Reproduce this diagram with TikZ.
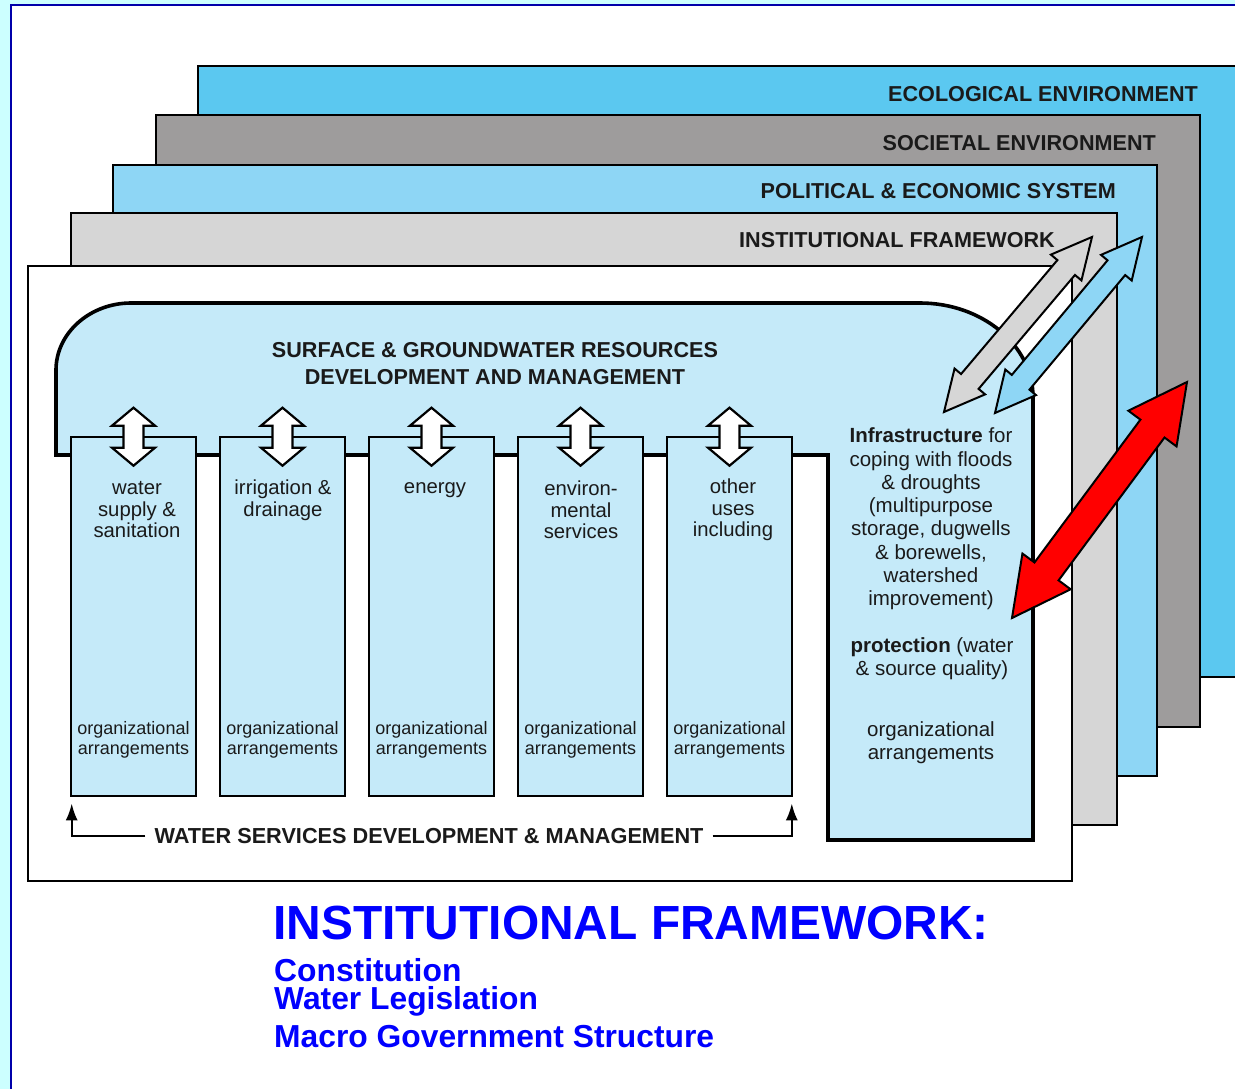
\documentclass[tikz,border=0pt]{standalone}
\usepackage{fontspec}
\setmainfont{Liberation Sans}
\usetikzlibrary{calc,arrows.meta}
\definecolor{eco}{HTML}{5BC8F0}
\definecolor{soc}{HTML}{9E9C9C}
\definecolor{pol}{HTML}{8ED6F5}
\definecolor{inst}{HTML}{D6D6D6}
\definecolor{pale}{HTML}{C5EAF9}
\definecolor{framebg}{HTML}{CCFFFF}
\definecolor{frameblue}{HTML}{0000AA}
\definecolor{titleblue}{HTML}{0000FF}
\definecolor{txt}{HTML}{1A1A1A}
% fat double arrow: #1 tip A, #2 tip B, #3 head length, #4 head half width, #5 shaft half width, #6 style
\newcommand\fatdarrow[6]{%
  \draw[#6] (#1) -- ($(#1)!#3!(#2)!#4!90:(#2)$) -- ($(#1)!#3!(#2)!#5!90:(#2)$)
    -- ($(#2)!#3!(#1)!#5!-90:(#1)$) -- ($(#2)!#3!(#1)!#4!-90:(#1)$) -- (#2)
    -- ($(#2)!#3!(#1)!#4!90:(#1)$) -- ($(#2)!#3!(#1)!#5!90:(#1)$)
    -- ($(#1)!#3!(#2)!#5!-90:(#2)$) -- ($(#1)!#3!(#2)!#4!-90:(#2)$) -- cycle;}
\begin{document}
\begin{tikzpicture}[x=1pt,y=-1pt,
  layer/.style={draw=black, line width=2.8pt},
  colbox/.style={draw=black, line width=2.6pt, fill=pale, minimum width=125pt, minimum height=359pt, inner sep=0pt},
  hdr/.style={font=\fontsize{21.6}{24}\selectfont\bfseries, text=txt, inner sep=0pt, anchor=base east},
  coltxt/.style={font=\fontsize{20.3}{21.5}\selectfont, text=txt, align=center, inner sep=0pt},
  orgtxt/.style={font=\fontsize{18}{20}\selectfont, text=txt, align=center, inner sep=0pt},
  boxtxt/.style={font=\fontsize{20.5}{23.3}\selectfont, text=txt, align=center, inner sep=0pt},
  wharrow/.style={draw=black, fill=white, line width=2.2pt, line join=miter},
  gyarrow/.style={draw=black, fill=inst, line width=2pt, line join=miter},
  blarrow/.style={draw=black, fill=pol, line width=2pt, line join=miter},
  rdarrow/.style={draw=black, fill=red, line width=2pt, line join=miter},
  conn/.style={draw=black, line width=2.4pt, -{Latex[length=17pt,width=12pt]}},
  bigtitle/.style={text=titleblue, font=\fontsize{47.9}{50}\selectfont\bfseries, anchor=base west, inner sep=0pt},
  subtitle/.style={text=titleblue, font=\fontsize{31.8}{34}\selectfont\bfseries, anchor=base west, inner sep=0pt, text height=23.5pt, text depth=2pt}]
\clip (0,0) rectangle (1235,1089);
% frame
\fill[framebg] (0,0) rectangle (1235,1089);
\draw[frameblue, line width=2.5pt, fill=white] (11,5) rectangle (1300,1150);
% stacked layers
\draw[layer, fill=eco] (198,66) rectangle (1300,677);
\draw[layer, fill=soc] (156,115) rectangle (1200,727);
\draw[layer, fill=pol] (113,165) rectangle (1157,776);
\draw[layer, fill=inst] (71,213) rectangle (1117,825);
\draw[layer, fill=white] (28,266) rectangle (1072,881);
% layer headers
\node[hdr] (heco) at (1198,101.5) {ECOLOGICAL ENVIRONMENT};
\node[hdr] (hsoc) at (1156,150.5) {SOCIETAL ENVIRONMENT};
\node[hdr] (hpol) at (1116,198.5) {POLITICAL \& ECONOMIC SYSTEM};
\node[hdr] (hins) at (1055,247.5) {INSTITUTIONAL FRAMEWORK};
% resources shape
\draw[draw=black, line width=3.6pt, fill=pale, line join=miter]
  (56,455) -- (56,370) .. controls (56,333) and (90,303) .. (131,303)
  -- (920,303) .. controls (982,303) and (1033,345) .. (1033,397)
  -- (1033,840) -- (828,840) -- (828,455) -- cycle;
\node[font=\fontsize{21.6}{27}\selectfont\bfseries, text=txt, align=center, inner sep=0pt] (hres) at (495,364) {SURFACE \& GROUNDWATER RESOURCES\\DEVELOPMENT AND MANAGEMENT};
% columns
\node[colbox] (c1) at (133.5,616.5) {};
\node[colbox] (c2) at (282.5,616.5) {};
\node[colbox] (c3) at (431.5,616.5) {};
\node[colbox] (c4) at (580.5,616.5) {};
\node[colbox] (c5) at (729.5,616.5) {};
\node[coltxt] (t1) at (137,510) {water\\supply \&\\sanitation};
\node[coltxt] (t2) at (283,500) {irrigation \&\\drainage};
\node[coltxt] (t3) at (435,490.5) {energy};
\node[coltxt] (t4) at (581,510) {environ-\\mental\\services};
\node[coltxt] (t5) at (733,510) {other\\uses\\including};
\foreach \i in {1,...,5} {
  \node[orgtxt] (o\i) at ($(c\i.center)+(0,123.5)$) {organizational\\arrangements};
  \coordinate (u\i) at ($(c\i.north)+(0,-28)$);
  \coordinate (d\i) at ($(c\i.north)+(0,30)$);
  \fatdarrow{u\i}{d\i}{18pt}{21.5pt}{10pt}{wharrow}
}
% right box text
\node[boxtxt] (infra) at (931,519) {\textbf{Infrastructure} for\\coping with floods\\\& droughts\\(multipurpose\\storage, dugwells\\\& borewells,\\watershed\\improvement)};
\node[boxtxt] (prot) at (932,659) {\textbf{protection} (water\\\& source quality)};
\node[boxtxt] (orgr) at (931,743) {organizational\\arrangements};
% water services connector
\node[font=\fontsize{21.7}{24}\selectfont\bfseries, text=txt, inner xsep=9pt, inner ysep=0pt] (wsdm) at (429,836) {WATER SERVICES DEVELOPMENT \& MANAGEMENT};
\draw[conn] (wsdm.west) -| ([xshift=2pt,yshift=-6pt]c1.south west);
\draw[conn] (wsdm.east) -| ([xshift=-1.5pt,yshift=-6pt]c5.south east);
% diagonal arrows
\coordinate (ga) at (1092,237);
\coordinate (gb) at (944,412);
\coordinate (ba) at (1142,237);
\coordinate (bb) at (995,413);
\coordinate (ra) at (1187,382);
\coordinate (rb) at (1012,618);
\fatdarrow{ga}{gb}{40pt}{20pt}{11.5pt}{gyarrow}
\fatdarrow{ba}{bb}{40pt}{20pt}{11.5pt}{blarrow}
\fatdarrow{ra}{rb}{58pt}{30pt}{15pt}{rdarrow}
% blue title
\node[bigtitle] (title) at (273,939) {INSTITUTIONAL FRAMEWORK:};
\node[subtitle] (l1) at (274,981) {Constitution};
\node[subtitle] (l2) at (274,1009) {Water Legislation};
\node[subtitle] (l3) at (274,1047) {Macro Government Structure};
\end{tikzpicture}
\end{document}
